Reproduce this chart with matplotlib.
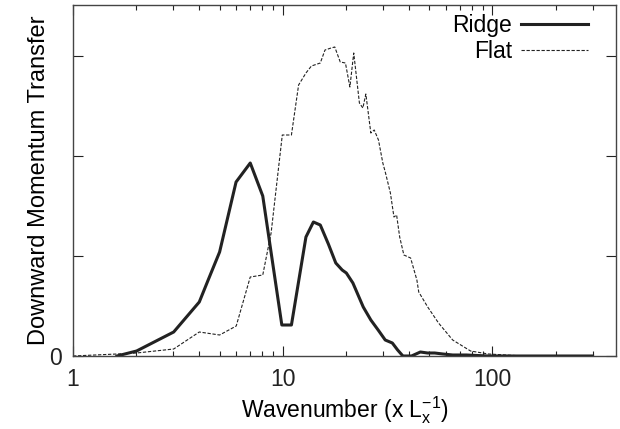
import matplotlib.pyplot as plt
import numpy as np

plt.rcParams['font.family'] = ['Liberation Sans', 'DejaVu Sans']
plt.rcParams['mathtext.fontset'] = 'custom'
plt.rcParams['mathtext.rm'] = 'Liberation Sans'

# wavenumber (x 1/Lx) and downward momentum transfer
ridge_k = [1.62, 2.01, 3.02, 4.0, 4.41, 5.0, 5.99, 7.0, 8.03, 9.9, 11.0, 12.9, 14.0,
           15.1, 16.5, 17.9, 19.2, 20.1, 21.6, 24.2, 26.3, 28.5, 30.8, 33.3, 35.3,
           37.4, 41.1, 45.3, 49.0, 53.0, 58.0, 64.6, 75.0, 95.6, 150.0, 300.0]
ridge_v = [0.0, 0.05, 0.24, 0.54, 0.76, 1.04, 1.74, 1.93, 1.6, 0.31, 0.31, 1.19, 1.34,
           1.31, 1.12, 0.93, 0.86, 0.83, 0.73, 0.49, 0.36, 0.26, 0.16, 0.13, 0.06,
           0.0, 0.0, 0.04, 0.03, 0.03, 0.02, 0.01, 0.01, 0.0, 0.0, 0.0]

flat_k = [1.0, 1.62, 2.01, 3.02, 4.0, 5.0, 6.0, 7.0, 8.03, 8.8, 9.95, 11.0, 11.9,
          12.9, 13.7, 15.1, 15.9, 17.0, 17.7, 18.8, 19.9, 20.9, 21.8, 23.2, 24.1,
          24.9, 26.3, 27.3, 28.6, 30.0, 30.9, 32.6, 33.9, 34.9, 36.1, 37.8, 40.7,
          43.6, 44.5, 49.1, 55.3, 64.6, 78.6, 95.6, 141.0, 300.0]
flat_v = [0.0, 0.02, 0.03, 0.07, 0.24, 0.21, 0.30, 0.79, 0.81, 1.23, 2.21, 2.21, 2.71,
          2.83, 2.9, 2.93, 3.06, 3.08, 3.09, 2.94, 2.93, 2.69, 3.03, 2.53, 2.48,
          2.62, 2.23, 2.26, 2.16, 1.93, 1.83, 1.63, 1.39, 1.41, 1.19, 1.01, 0.98,
          0.76, 0.64, 0.49, 0.33, 0.16, 0.05, 0.02, 0.0, 0.0]

ink = '#222222'
fs = 16.5

fig = plt.figure(figsize=(6.2, 4.29), dpi=100)
ax = fig.add_axes([73 / 620, 73 / 429, 543 / 620, 351 / 429])

ax.plot(ridge_k, ridge_v, color=ink, lw=2.2, label='Ridge')
ax.plot(flat_k, flat_v, color=ink, lw=0.8, dashes=(3, 1.5), label='Flat')

ax.set_xscale('log')
ax.set_xlim(1, 388)
ax.set_ylim(0, 3.51)
ax.set_yticks([0, 1, 2, 3])
ax.set_yticklabels(['0', '', '', ''])
ax.set_xticks([1, 10, 100])
ax.set_xticklabels(['1', '10', '100'])

ax.tick_params(which='both', direction='in', top=True, right=True,
               colors=ink, labelsize=fs, width=0.8)
ax.tick_params(which='major', length=7)
ax.tick_params(which='minor', length=3.5)
ax.tick_params(axis='x', pad=9)
ax.tick_params(axis='y', pad=8)
for s in ax.spines.values():
    s.set_color('#444444')
    s.set_linewidth(1.0)

ax.set_xlabel(r'Wavenumber (x L$_{\mathregular{x}}^{\mathregular{-1}}$)', fontsize=fs, labelpad=2)
ax.set_ylabel('Downward Momentum Transfer', fontsize=fs + 0.5)
ax.yaxis.set_label_coords(-0.043, 0.5)

ax.legend(loc='upper right', bbox_to_anchor=(0.965, 1.0), frameon=False,
          markerfirst=False, fontsize=fs, handlelength=2.9, handletextpad=0.4,
          labelspacing=0.14, borderaxespad=0.0)

fig.savefig('out.png', dpi=100)
